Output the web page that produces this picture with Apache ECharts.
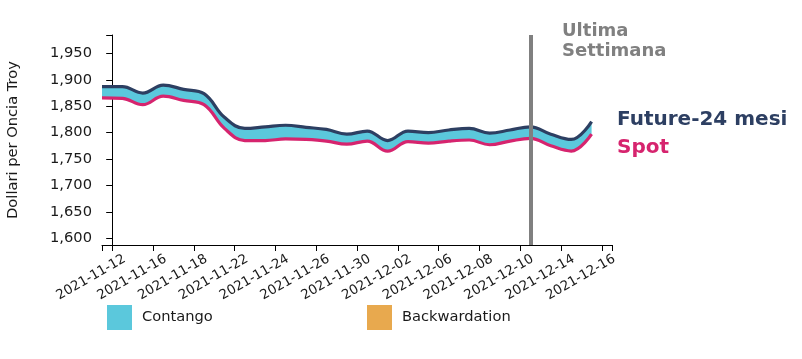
<!DOCTYPE html>
<html>
<head>
<meta charset="utf-8">
<script src="https://cdn.jsdelivr.net/npm/echarts@6/dist/echarts.min.js"></script>
<style>
html,body{margin:0;padding:0;background:#fff;}
#chart{width:802px;height:359px;}
</style>
</head>
<body>
<div id="chart"></div>
<script>
// ---- data ----
const dates = ['2021-11-12','2021-11-15','2021-11-16','2021-11-17','2021-11-18','2021-11-19',
  '2021-11-22','2021-11-23','2021-11-24','2021-11-25','2021-11-26','2021-11-29','2021-11-30',
  '2021-12-01','2021-12-02','2021-12-03','2021-12-06','2021-12-07','2021-12-08','2021-12-09',
  '2021-12-10','2021-12-13','2021-12-14','2021-12-15','2021-12-16'];
const future = [1887,1887,1875,1890,1882,1874,1829,1808,1811,1814,1810,1806,1797,1803,1785,
  1803,1800,1805,1808,1799,1805,1811,1797,1787,1821];
const spot = [1866,1865,1853,1869,1861,1853,1808,1785,1785,1788,1787,1784,1778,1784,1765,
  1783,1780,1784,1786,1777,1784,1789,1775,1765,1797];
const yTicks = [1600,1650,1700,1750,1800,1850,1900,1950];
const xLabelIdx = [0,2,4,6,8,10,12,14,16,18,20,22,24];
const lastWeekStart = '2021-12-13';
const legendNames = ['Contango','Backwardation'];

// ---- build ----
const NAVY = '#2d3f62', PINK = '#d6246e', CYAN = '#5bc8dc', ORANGE = '#e8a94e', GREY = '#808080';
const yMin = 1587, yMax = 1985;
const xMin = -0.5, xMax = dates.length - 0.5;   // band axis for the dates
const G = {left: 102, right: 190, top: 35, bottom: 114};
const LBL_DX = 12.5;                            // rotated date labels sit right of their tick
const fmtNum = v => String(v).replace(/\B(?=(\d{3})+(?!\d))/g, ',');
const diff = future.map((v, i) => v - spot[i]);

const chart = echarts.init(document.getElementById('chart'), null, {renderer: 'canvas'});
const FONT = 'DejaVu Sans';
const TXT = '#1a1a1a';
chart.setOption({
  animation: false,
  textStyle: {fontFamily: FONT},
  grid: [
    {left: G.left, right: G.right, top: G.top, bottom: G.bottom, containLabel: false, outerBoundsMode: 'none'},
    {left: G.left + LBL_DX, right: G.right - LBL_DX, top: G.top, bottom: G.bottom,
      containLabel: false, outerBoundsMode: 'none', show: false}
  ],
  xAxis: [
    { // date band axis: line and ticks
      gridIndex: 0, type: 'value', min: xMin, max: xMax,
      splitLine: {show: false},
      axisLine: {show: true, onZero: false, lineStyle: {color: '#000', width: 1}},
      axisTick: {show: true, length: 6, lineStyle: {color: '#000'},
        customValues: [xMin].concat(xLabelIdx, [xMax])},
      axisLabel: {show: false}
    },
    { // series placement: each date at the start of its band
      gridIndex: 0, type: 'category', data: dates.concat(['']), boundaryGap: false, show: false
    },
    { // date labels
      gridIndex: 1, type: 'value', min: xMin, max: xMax,
      splitLine: {show: false}, axisLine: {show: false, onZero: false}, axisTick: {show: false},
      axisLabel: {
        customValues: xLabelIdx, rotate: 30, margin: 13, hideOverlap: false,
        showMinLabel: true, showMaxLabel: true,
        fontSize: 13.33, color: TXT, fontFamily: FONT,
        formatter: v => dates[Math.round(v)]
      }
    }
  ],
  yAxis: [
    {
      gridIndex: 0, type: 'value', min: yMin, max: yMax,
      name: 'Dollari per Oncia Troy', nameLocation: 'middle', nameGap: 81,
      nameTextStyle: {fontSize: 14.67, color: TXT, fontFamily: FONT},
      splitLine: {show: false},
      axisLine: {show: true, lineStyle: {color: '#000', width: 1}},
      axisTick: {show: true, length: 6, lineStyle: {color: '#000'},
        customValues: [yMin].concat(yTicks, [yMax])},
      axisLabel: {customValues: yTicks, margin: 10, fontSize: 14.67, color: TXT,
        fontFamily: FONT, formatter: v => fmtNum(v)}
    },
    {gridIndex: 1, type: 'value', min: yMin, max: yMax, show: false}
  ],
  legend: [
    {data: [{name: legendNames[0], itemStyle: {color: CYAN}}], left: 107, top: 305, padding: 0,
      icon: 'rect', itemWidth: 25, itemHeight: 25, selectedMode: false,
      textStyle: {fontSize: 14.67, color: TXT, fontFamily: FONT, padding: [0,0,0,5]}},
    {data: [{name: legendNames[1], itemStyle: {color: ORANGE}}], left: 367, top: 305, padding: 0,
      icon: 'rect', itemWidth: 25, itemHeight: 25, selectedMode: false,
      textStyle: {fontSize: 14.67, color: TXT, fontFamily: FONT, padding: [0,0,0,5]}}
  ],
  series: [
    {name: 'Spot', type: 'line', xAxisIndex: 1, yAxisIndex: 0, data: spot, stack: 'band', smooth: 0.4,
      symbol: 'none', lineStyle: {color: PINK, width: 3.2}, itemStyle: {color: PINK}, z: 3},
    {name: legendNames[0], type: 'line', xAxisIndex: 1, yAxisIndex: 0, data: diff, stack: 'band', smooth: 0.4,
      symbol: 'none', lineStyle: {width: 0, opacity: 0}, itemStyle: {color: CYAN},
      areaStyle: {color: CYAN, opacity: 1}, z: 1},
    {name: legendNames[1], type: 'line', xAxisIndex: 1, yAxisIndex: 0, data: [], itemStyle: {color: ORANGE},
      symbol: 'none'},
    {name: 'Future-24 mesi', type: 'line', xAxisIndex: 1, yAxisIndex: 0, data: future, smooth: 0.4,
      symbol: 'none', lineStyle: {color: NAVY, width: 3.2}, itemStyle: {color: NAVY}, z: 4,
      markLine: {silent: true, symbol: ['none','none'], label: {show: false},
        lineStyle: {color: GREY, width: 4, type: 'solid'},
        data: [{xAxis: lastWeekStart}]}}
  ],
  graphic: [
    {type: 'text', left: 562, top: 21, style: {text: 'Ultima\nSettimana', fill: GREY,
      font: 'bold 18px "DejaVu Sans"', lineHeight: 20}},
    {type: 'text', x: 617, y: 120, style: {text: 'Future-24 mesi', fill: NAVY,
      font: 'bold 20px "DejaVu Sans"', verticalAlign: 'middle'}},
    {type: 'text', x: 617, y: 148, style: {text: 'Spot', fill: PINK,
      font: 'bold 20px "DejaVu Sans"', verticalAlign: 'middle'}}
  ]
});
</script>
</body>
</html>
